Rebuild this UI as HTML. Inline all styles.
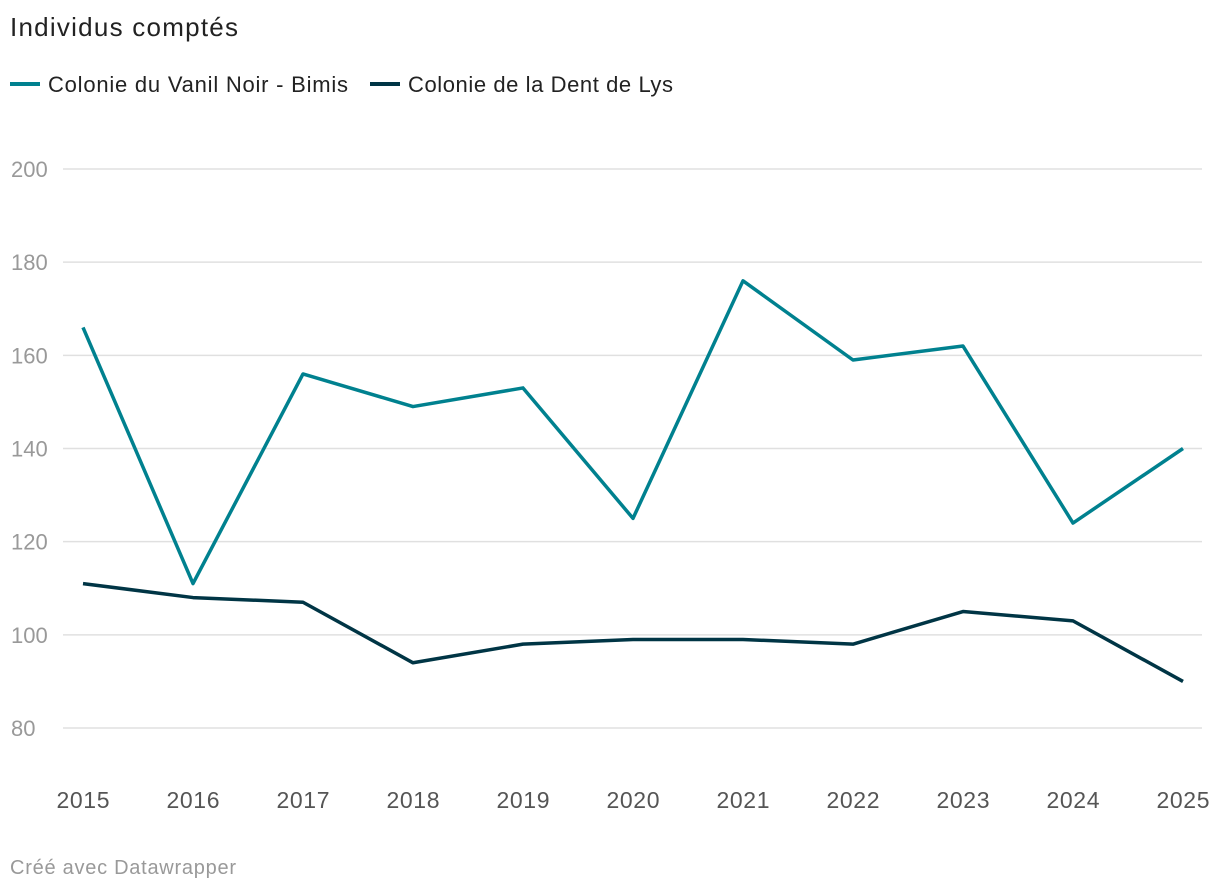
<!DOCTYPE html>
<html><head><meta charset="utf-8"><style>
body{margin:0;background:#fff;font-family:"Liberation Sans",sans-serif;}
svg text{font-family:"Liberation Sans",sans-serif;}
</style></head><body>
<svg id="chart" width="1220" height="890">
<text x="10" y="36" font-size="26" fill="#222" textLength="228">Individus comptés</text>
<g>
<line x1="10" y1="84" x2="40" y2="84" stroke="#00818f" stroke-width="4"/>
<text x="48" y="92" font-size="22" fill="#222" textLength="300">Colonie du Vanil Noir - Bimis</text>
<line x1="370" y1="84" x2="400" y2="84" stroke="#003545" stroke-width="4"/>
<text x="408" y="92" font-size="22" fill="#222" textLength="265">Colonie de la Dent de Lys</text>
</g>
<g id="grid"></g><g id="series"></g>
<text x="10" y="874" font-size="20" fill="#999" textLength="226">Créé avec Datawrapper</text>
</svg>
<script>
const years=[2015,2016,2017,2018,2019,2020,2021,2022,2023,2024,2025];
const vanil=[166,111,156,149,153,125,176,159,162,124,140];
const dent=[111,108,107,94,98,99,99,98,105,103,90];
const yTicks=[80,100,120,140,160,180,200];
const NS="http://www.w3.org/2000/svg";
const xs=i=>83+i*110;
const ys=v=>169+(200-v)*(728-169)/120;
const grid=document.getElementById('grid'),ser=document.getElementById('series');
function mk(t,a,p){const e=document.createElementNS(NS,t);for(const k in a)e.setAttribute(k,a[k]);p.appendChild(e);return e;}
yTicks.forEach(v=>{
 const l=mk('line',{x1:63,x2:1202,y1:ys(v),y2:ys(v),stroke:'#e0e0e0','stroke-width':1.5},grid);
 
 
 const t=mk('text',{x:11,y:ys(v)+8,'font-size':22,fill:'#999'},grid);t.textContent=v;
 
 
});
years.forEach((y,i)=>{
 const t=mk('text',{x:xs(i),y:808,'font-size':23,fill:'#555','text-anchor':'middle',textLength:53},grid);t.textContent=y;
 
 
});
[[vanil,'#00818f','line-vanil'],[dent,'#003545','line-dent']].forEach(([d,c,n])=>{
 const p=mk('polyline',{points:d.map((v,i)=>xs(i)+','+ys(v)).join(' '),fill:'none',stroke:c,'stroke-width':3.5,'stroke-linejoin':'round'},ser);
 
 
});
</script>
</body></html>
